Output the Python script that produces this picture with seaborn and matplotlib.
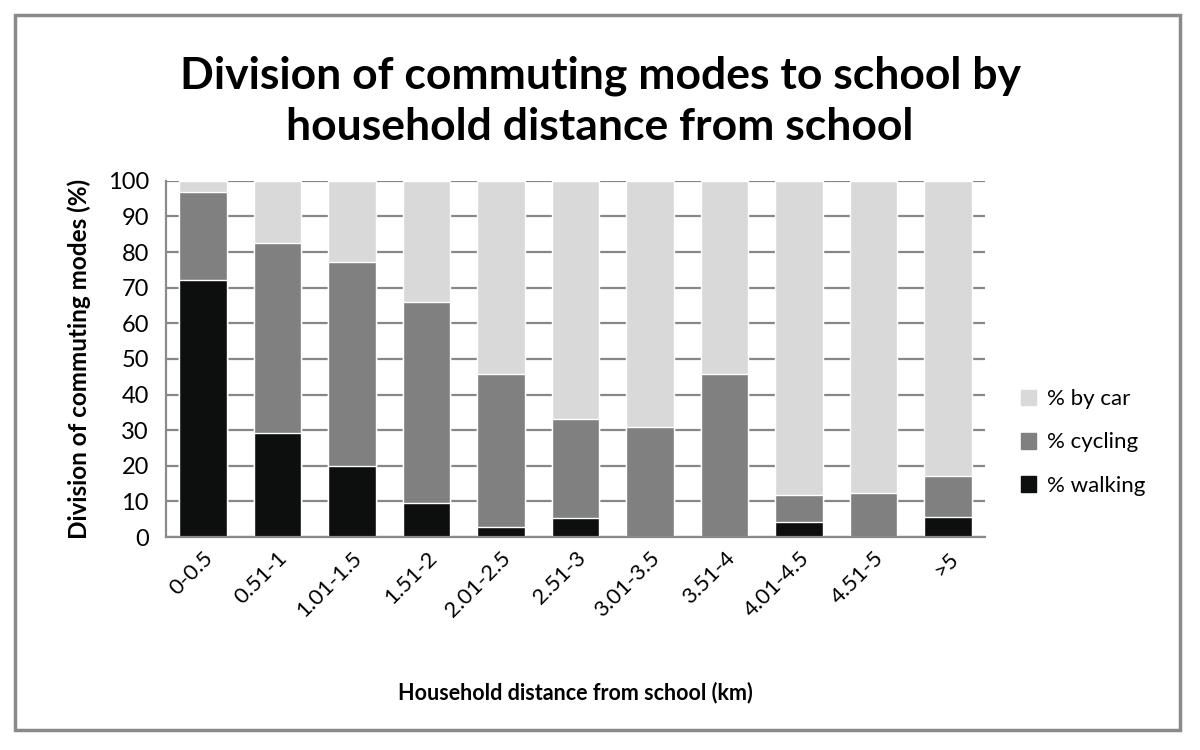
import numpy as np
import pandas as pd
import matplotlib
matplotlib.use("Agg")
import matplotlib.pyplot as plt
import seaborn as sns
from matplotlib.patches import Rectangle, Patch

distances = ["0-0.5", "0.51-1", "1.01-1.5", "1.51-2", "2.01-2.5", "2.51-3",
             "3.01-3.5", "3.51-4", "4.01-4.5", "4.51-5", ">5"]
walking = [72.1, 29.2, 20.0, 9.6, 2.9, 5.2, 0.0, 0.0, 4.1, 0.0, 5.6]
cycling = [24.8, 53.4, 57.1, 56.5, 42.8, 28.0, 31.0, 45.8, 7.6, 12.3, 11.6]
by_car = [100 - w - c for w, c in zip(walking, cycling)]

df = pd.DataFrame({"distance": distances, "walking": walking,
                   "cycling": cycling, "car": by_car})
df["walk_cyc"] = df["walking"] + df["cycling"]
df["total"] = df["walk_cyc"] + df["car"]

c_walk, c_cyc, c_car = "#0d0f0f", "#808080", "#d9d9d9"

sns.set_style("white")
plt.rcParams["font.family"] = ["Lato", "DejaVu Sans"]
plt.rcParams["text.color"] = "black"
plt.rcParams["xtick.color"] = "black"
plt.rcParams["ytick.color"] = "black"
plt.rcParams["axes.labelcolor"] = "black"

fig = plt.figure(figsize=(12, 7.5), dpi=100)
ax = fig.add_axes([0.138, 0.284, 0.683, 0.475])

# stacked bars, drawn back to front
for col, color in [("total", c_car), ("walk_cyc", c_cyc), ("walking", c_walk)]:
    sns.barplot(data=df, x="distance", y=col, color=color, width=0.64,
                saturation=1, ax=ax, zorder=2)

ax.set_ylim(0, 100)
ax.set_xlim(-0.5, len(distances) - 0.5)
ax.set_yticks(range(0, 101, 10))
ax.yaxis.grid(True, color="#878787", linewidth=1.6, zorder=0)
ax.set_axisbelow(True)
for s in ["top", "right"]:
    ax.spines[s].set_visible(False)
for s in ["left", "bottom"]:
    ax.spines[s].set_color("#8a8a8a")
    ax.spines[s].set_linewidth(1.6)
ax.tick_params(axis="y", labelsize=17, length=0, pad=12)
ax.tick_params(axis="x", labelsize=16, length=0, pad=8)
plt.setp(ax.get_xticklabels(), rotation=45, ha="right", rotation_mode="anchor")

ax.set_xlabel("Household distance from school (km)", fontsize=15.5,
              fontweight="bold", labelpad=44)
ax.set_ylabel("Division of commuting modes (%)", fontsize=17.5,
              fontweight="bold", labelpad=12)

fig.text(0.5, 0.865, "Division of commuting modes to school by\nhousehold distance from school",
         ha="center", va="center", fontsize=32, fontweight="bold",
         linespacing=1.35)

handles = [Patch(color=c_car, label="% by car"),
           Patch(color=c_cyc, label="% cycling"),
           Patch(color=c_walk, label="% walking")]
fig.legend(handles=handles, loc="center left", bbox_to_anchor=(0.834, 0.41),
           frameon=False, fontsize=16, handlelength=0.7, handleheight=0.7,
           handletextpad=0.5, labelspacing=1.05)

fig.patches.append(Rectangle((15 / 1200, 20 / 750), 1165 / 1200, 715 / 750,
                             transform=fig.transFigure, fill=False,
                             edgecolor="#8a8a8a", linewidth=2.5))

fig.savefig("out.png", dpi=100)
